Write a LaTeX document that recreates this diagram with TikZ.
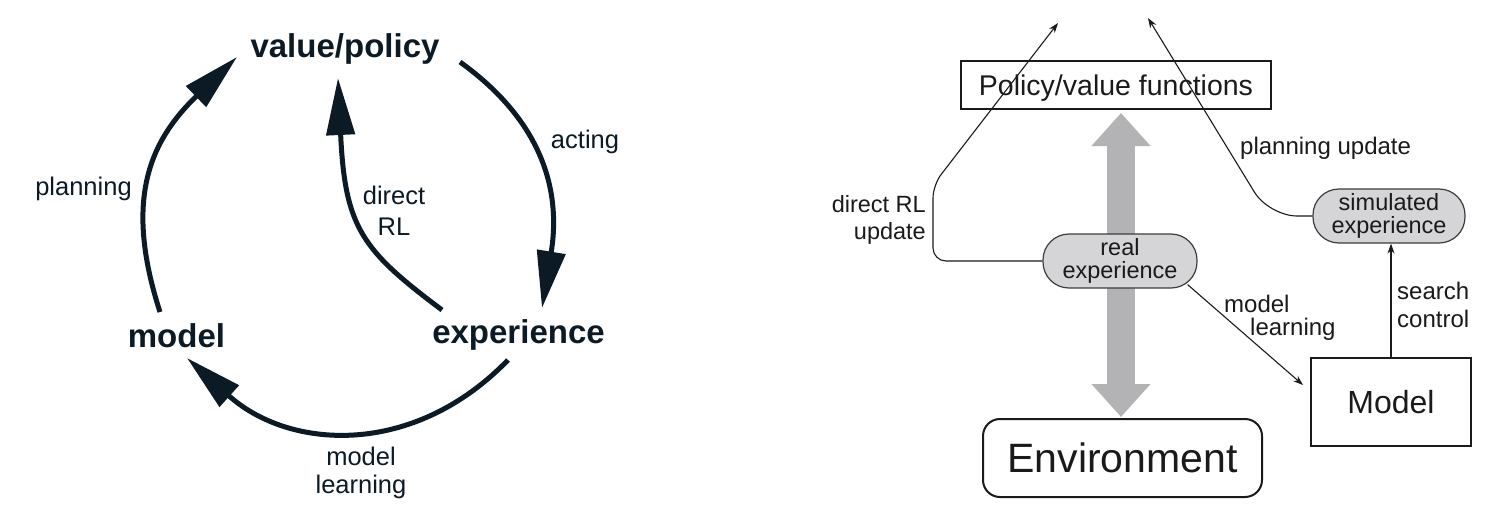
\documentclass[tikz,border=0pt]{standalone}
\usepackage{fontspec}
\setmainfont{Liberation Sans}
\usetikzlibrary{arrows.meta,calc}
\definecolor{ink}{HTML}{0B1A24}
\definecolor{fg}{HTML}{1A1A1A}
\definecolor{bubblegray}{HTML}{D5D5D7}
\definecolor{biggray}{HTML}{B3B3B5}
\newcommand\fsz[2]{\fontsize{#1}{#2}\selectfont}
\begin{document}
\begin{tikzpicture}[x=1pt,y=-1pt,
  boldlbl/.style={font=\fsz{33}{36}\bfseries, inner sep=0pt, text=ink},
  cyclbl/.style={font=\fsz{25.5}{30}, inner sep=0pt, text=ink},
  thickarrow/.style={line width=5pt, draw=ink, -{Triangle[length=57pt,width=28pt]}},
  rbox/.style={draw=fg, line width=2pt, inner sep=0pt, text=fg},
  bubble/.style={draw=fg!85, fill=bubblegray, line width=1.2pt, rounded corners=26pt,
    align=center, font=\fsz{23.5}{22.5}, inner sep=0pt, text=fg},
  rlbl/.style={font=\fsz{24}{27}, inner sep=0pt, text=fg},
  thinarrow/.style={draw=fg, line width=1.1pt, -{Stealth[length=10pt,width=7pt]}}
]
\useasboundingbox (0,0) rectangle (1491,512);

% ---------------- left diagram ----------------
\node[boldlbl, anchor=base] (vp) at (345,57) {value/policy};
\node[boldlbl, anchor=base] (mdl) at (176.5,347) {model};
\node[boldlbl, anchor=base] (exp) at (518.5,343) {experience};

\draw[thickarrow] ($(mdl.base)+(-16.5,-35)$) .. controls (123,198) and (151,140) .. ($(vp.base)+(-108,0)$);
\draw[thickarrow] ($(vp.base)+(115,5)$) .. controls (549,126) and (560,199) .. ($(exp.base)+(23.5,-35)$);
\draw[thickarrow] ($(exp.base)+(-76.5,-33)$) .. controls (362,250) and (345,228) .. ($(vp.base)+(-7,21)$);
\draw[thickarrow] ($(exp.base)+(-10.5,17)$) .. controls (413,458) and (289,450) .. ($(mdl.base)+(10.5,11)$);

\node[cyclbl, anchor=base] (lact) at (585,148) {acting};
\node[cyclbl, anchor=base] (lplan) at (83.5,195) {planning};
\node[cyclbl, anchor=north, align=center, font=\fsz{25.5}{31}] (ldrl) at (394,186) {direct\\RL};
\node[cyclbl, anchor=north, align=center, font=\fsz{25.5}{28}] (lml) at (361,447) {model\\learning};

% ---------------- right diagram ----------------
\node[rbox, minimum width=310pt, minimum height=48pt, font=\fsz{28.5}{32},
  text height=20pt, text depth=0pt] (pv) at (1116,85) {Policy/value functions};
\node[rbox, rounded corners=17pt, minimum width=279pt, minimum height=78pt,
  font=\fsz{41}{44}] (env) at (1122.5,458) {Environment};
\node[rbox, minimum width=160pt, minimum height=88pt, font=\fsz{32}{36}] (mb) at (1391,402) {Model};

\draw[line width=28pt, draw=biggray,
  {Triangle[length=33pt,width=57pt]}-{Triangle[length=33pt,width=57pt]}]
  ($(pv.south)+(5,3)$) -- ($(env.north)+(-1.5,-1)$);

\node[bubble, minimum width=154pt, minimum height=54pt] (rx) at (1120,261) {real\\experience};
\node[bubble, minimum width=152pt, minimum height=54pt] (sx) at (1389,216) {simulated\\experience};

\coordinate (tA) at (1058,23);
\coordinate (tB) at (1148,18);

\draw[thinarrow, rounded corners=13pt] (rx.west) -- (933,261) -- (933,185) -- (tA);
\draw[thinarrow, rounded corners=28pt] (sx.west) -- (1269,216) -- (tB);
\draw[thinarrow] ($(rx.south east)+(-10,-4)$) -- ($(mb.west)+(-7,-17)$);
\draw[thinarrow] (mb.north) -- (mb.north |- sx.south);

\node[rlbl, anchor=north east, align=right, font=\fsz{23.5}{27}] (ldu) at (926,195.5) {direct RL\\update};
\node[rlbl, anchor=base west] (lpu) at (1240,154) {planning update};
\node[rlbl, anchor=north west, align=left, font=\fsz{24}{23}] (lml2) at (1224,295) {model\\\hspace*{26pt}learning};
\node[rlbl, anchor=north west, align=left, font=\fsz{24}{28}] (lsc) at (1397,282) {search\\control};
\end{tikzpicture}
\end{document}
